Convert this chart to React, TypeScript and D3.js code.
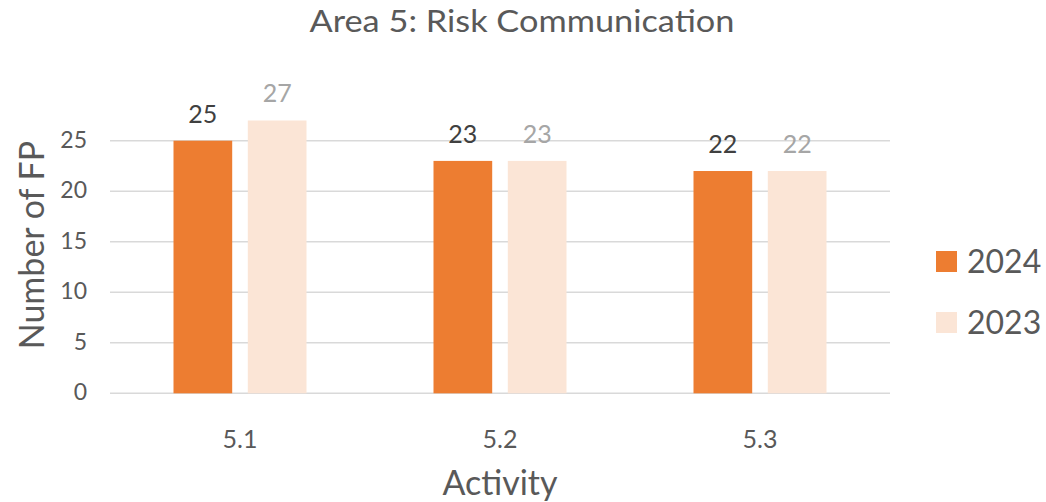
import * as d3 from "d3";

const categories = ["5.1", "5.2", "5.3"];
const seriesNames = ["2024", "2023"];
const values2024 = [25, 23, 22];
const values2023 = [27, 23, 22];
const yTicks = [0, 5, 10, 15, 20, 25];

const colors = ["#ED7D31", "#FBE5D6"];
const labelColors = ["#404040", "#A6A6A6"];
const font = "Lato, 'Open Sans', sans-serif";

export default function App() {
  const width = 1046;
  const height = 502;
  const left = 110;
  const right = 890;
  const top = 140.7;
  const bottom = 393.3;

  const x = d3.scaleBand<string>().domain(categories).range([left, right]).padding(0);
  const inner = d3
    .scaleBand<string>()
    .domain(seriesNames)
    .range([63.5, 196.5])
    .paddingInner(0.21)
    .paddingOuter(0);
  const y = d3.scaleLinear().domain([0, 25]).range([bottom, top]);

  const series = [values2024, values2023];

  return (
    <svg
      width={width}
      height={height}
      style={{ position: "absolute", left: 0, top: 0, background: "#fff" }}
      fontFamily={font}
    >
      <text x={522} y={32} textAnchor="middle" fontSize={30} fill="#595959" textLength={425} lengthAdjust="spacingAndGlyphs">
        Area 5: Risk Communication
      </text>

      {yTicks.map((t) => (
        <g key={t}>
          <line x1={left} x2={right} y1={y(t)} y2={y(t)} stroke="#D9D9D9" strokeWidth={1.5} />
          <text x={87} y={y(t) + 7} textAnchor="end" fontSize={23} fill="#595959">
            {t}
          </text>
        </g>
      ))}

      {categories.map((c, i) => (
        <g key={c}>
          {seriesNames.map((s, j) => {
            const v = series[j][i];
            const bx = (x(c) ?? 0) + (inner(s) ?? 0);
            return (
              <g key={s}>
                <rect
                  x={bx}
                  y={y(v)}
                  width={inner.bandwidth()}
                  height={y(0) - y(v)}
                  fill={colors[j]}
                />
                <text
                  x={bx + inner.bandwidth() / 2}
                  y={y(v) - 18}
                  textAnchor="middle"
                  fontSize={25}
                  fill={labelColors[j]}
                >
                  {v}
                </text>
              </g>
            );
          })}
          <text
            x={(x(c) ?? 0) + x.bandwidth() / 2}
            y={448}
            textAnchor="middle"
            fontSize={25}
            fill="#595959"
          >
            {c}
          </text>
        </g>
      ))}

      <text x={500} y={495} textAnchor="middle" fontSize={34} fill="#595959">
        Activity
      </text>
      <text
        transform="translate(44,245) rotate(-90)"
        textAnchor="middle"
        fontSize={34}
        fill="#595959"
      >
        Number of FP
      </text>

      {seriesNames.map((s, j) => (
        <g key={s} transform={`translate(936,${251 + j * 61})`}>
          <rect width={21} height={21} fill={colors[j]} />
          <text x={31} y={22} fontSize={32} fill="#595959">
            {s}
          </text>
        </g>
      ))}
    </svg>
  );
}
